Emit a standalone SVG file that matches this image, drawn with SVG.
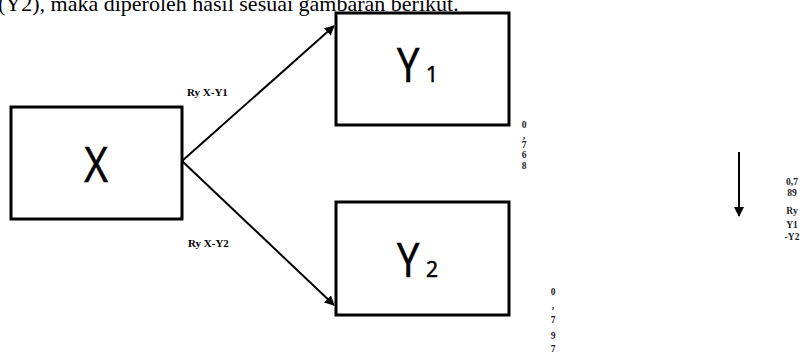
<svg xmlns="http://www.w3.org/2000/svg" width="807" height="356" viewBox="0 0 807 356">
<defs>
<style>
.box{fill:#fff;stroke:#000;stroke-width:3}
.big{font-family:"Open Sans","Liberation Sans",sans-serif;fill:#000;stroke:#000;stroke-width:0.6}
.lbl{font-family:"Liberation Serif","Times New Roman",serif;font-weight:bold;font-size:11px;fill:#000}
.num{font-family:"Liberation Serif",serif;font-weight:bold;font-size:9.5px;fill:#222;text-anchor:middle}
.con{stroke:#000;stroke-width:2;fill:none}
</style>
<marker id="ah" viewBox="0 0 10 10" refX="9" refY="5" markerWidth="5" markerHeight="5" orient="auto" markerUnits="strokeWidth">
<path d="M0,0 L10,5 L0,10 z" fill="#000"/>
</marker>
</defs>
<rect width="807" height="356" fill="#fff"/>
<text x="-2" y="11" font-family="Liberation Serif,serif" font-size="22" fill="#000">(Y2), maka diperoleh hasil sesuai gambaran berikut.</text>
<g id="connectors">
<line class="con" x1="182" y1="161" x2="334" y2="26" marker-end="url(#ah)"/>
<line class="con" x1="182" y1="161" x2="334" y2="305" marker-end="url(#ah)"/>
<line class="con" x1="739" y1="152" x2="739" y2="216" marker-end="url(#ah)"/>
</g>
<g id="node-x">
<rect class="box" x="11" y="107" width="171" height="112"/>
<text class="big" x="96" y="182" font-size="50" text-anchor="middle" transform="translate(96 0) scale(0.82 1) translate(-96 0)">X</text>
</g>
<g id="node-y1">
<rect class="box" x="336" y="13" width="173" height="112"/>
<text class="big" x="397" y="82" font-size="47" transform="translate(397 0) scale(0.85 1) translate(-397 0)">Y</text>
<text class="big" x="426" y="82" font-size="21" stroke-width="0.3">1</text>
</g>
<g id="node-y2">
<rect class="box" x="336" y="202" width="173" height="113"/>
<text class="big" x="397" y="277" font-size="47" transform="translate(397 0) scale(0.85 1) translate(-397 0)">Y</text>
<text class="big" x="426" y="277" font-size="21" stroke-width="0.3">2</text>
</g>
<g id="labels">
<text class="lbl" x="187" y="96">Ry X-Y1</text>
<text class="lbl" x="188" y="247">Ry X-Y2</text>
<text class="num" x="524" y="128">0</text>
<text class="num" x="524" y="139">,</text>
<text class="num" x="524" y="148">7</text>
<text class="num" x="524" y="158">6</text>
<text class="num" x="524" y="169">8</text>
<text class="num" x="553" y="295">0</text>
<text class="num" x="553" y="309">,</text>
<text class="num" x="553" y="323">7</text>
<text class="num" x="553" y="339">9</text>
<text class="num" x="553" y="352">7</text>
<text class="num" x="792" y="185">0,7</text>
<text class="num" x="792" y="196">89</text>
<text class="num" x="792" y="214">Ry</text>
<text class="num" x="792" y="228">Y1</text>
<text class="num" x="792" y="240">-Y2</text>
</g>
</svg>
